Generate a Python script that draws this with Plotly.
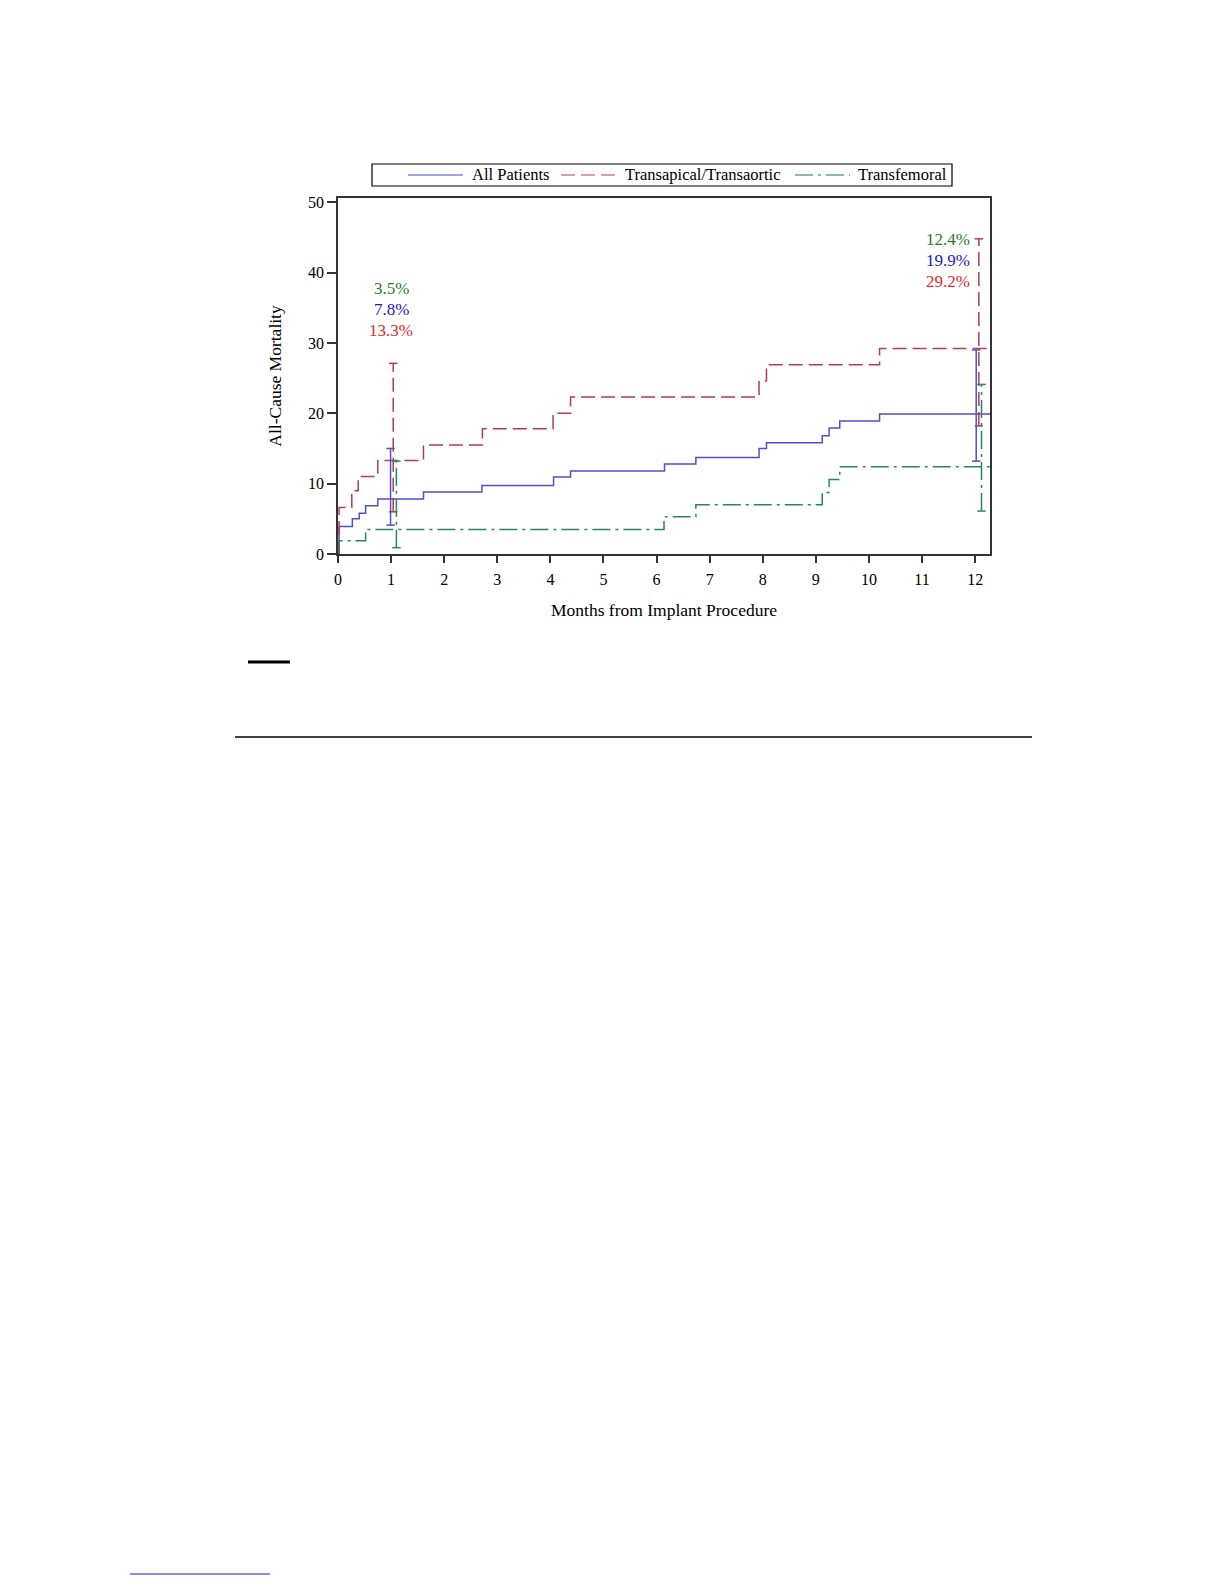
import plotly.graph_objects as go

# ---------------- data ----------------
series_names = ["All Patients", "Transapical/Transaortic", "Transfemoral"]

all_t = [0, 0.02, 0.27, 0.40, 0.52, 0.75, 1.61, 2.71, 4.06, 4.38, 6.15, 6.74, 7.93, 8.07, 9.12, 9.25, 9.45, 10.2, 12.3]
all_v = [0, 3.9, 5.0, 5.8, 6.85, 7.8, 8.8, 9.75, 10.95, 11.8, 12.8, 13.7, 15.0, 15.8, 16.8, 17.9, 18.9, 19.9, 19.9]

ta_t = [0, 0.02, 0.26, 0.38, 0.75, 1.61, 2.72, 4.05, 4.38, 7.93, 8.07, 10.2, 12.3]
ta_v = [0, 6.6, 9.0, 11.0, 13.3, 15.5, 17.8, 20.0, 22.3, 24.6, 26.9, 29.2, 29.2]

tf_t = [0, 0.02, 0.52, 6.14, 6.74, 9.12, 9.25, 9.45, 12.3]
tf_v = [0, 1.9, 3.5, 5.3, 7.0, 8.75, 10.6, 12.4, 12.4]

# 95% CI bars at 1 and 12 months: (x position, lower, upper)
all_ci = [(0.99, 4.1, 15.0), (12.02, 13.2, 29.0)]
ta_ci = [(1.04, 6.0, 27.1), (12.07, 18.2, 44.8)]
tf_ci = [(1.10, 0.9, 13.2), (12.12, 6.1, 24.1)]

# Labels at 1 and 12 months (order top to bottom: TF, All, TA)
labels_1m = ["3.5%", "7.8%", "13.3%"]
labels_12m = ["12.4%", "19.9%", "29.2%"]
label_y_1m = [37.8, 34.8, 31.8]
label_y_12m = [44.7, 41.7, 38.8]

x_ticks = list(range(0, 13))
y_ticks = [0, 10, 20, 30, 40, 50]

# ---------------- styles ----------------
FONT = "Liberation Serif"
c_all, c_ta, c_tf = "#4f4fcf", "#b23c52", "#2a8466"
lg_all, lg_ta, lg_tf = "#8585e0", "#d0808e", "#62a88e"
t_all, t_ta, t_tf = "#2020c8", "#e02828", "#1e7d1e"
dash_ta = "14px,6px"
dash_tf = "18px,5px,3px,5px"

fig = go.Figure()

series = [
    (series_names[0], all_t, all_v, c_all, "solid", all_ci),
    (series_names[1], ta_t, ta_v, c_ta, dash_ta, ta_ci),
    (series_names[2], tf_t, tf_v, c_tf, dash_tf, tf_ci),
]

for name, t, v, col, dash, ci in series:
    fig.add_trace(go.Scatter(
        x=t, y=v, mode="lines", name=name, showlegend=False,
        line=dict(color=col, width=1.5, dash=dash, shape="hv"),
    ))

for name, t, v, col, dash, ci in series:
    for (xc, lo, hi) in ci:
        fig.add_trace(go.Scatter(
            x=[xc, xc], y=[lo, hi], mode="lines+markers", showlegend=False,
            line=dict(color=col, width=1.5, dash=dash),
            marker=dict(symbol="line-ew", size=6, line=dict(color=col, width=1.5)),
            hoverinfo="skip",
        ))

for txt, yy, col in zip(labels_1m, label_y_1m, [t_tf, t_all, t_ta]):
    fig.add_annotation(x=1.0, y=yy, text=txt, showarrow=False, xanchor="center",
                       yanchor="middle", font=dict(family=FONT, size=17, color=col))
for txt, yy, col in zip(labels_12m, label_y_12m, [t_tf, t_all, t_ta]):
    fig.add_annotation(x=11.95, y=yy, text=txt, showarrow=False, xanchor="right",
                       yanchor="middle", font=dict(family=FONT, size=17, color=col))

# ---------------- layout helpers ----------------
L, R, T, B = 330, 982, 190, 546
W, H = 1224, 1584


def px(xp):
    return (xp - L) / (R - L)


def py(yp):
    return (B - yp) / (B - T)


# ---------------- legend (boxed, above plot) ----------------
leg_y = 167
fig.add_shape(type="rect", xref="paper", yref="paper", x0=px(364), x1=px(944),
              y0=py(178), y1=py(156), line=dict(color="black", width=1.2),
              fillcolor="white")
legend_items = [
    (series_names[0], lg_all, "solid", 400, 455, 462),
    (series_names[1], lg_ta, dash_ta, 553, 610, 615),
    (series_names[2], lg_tf, dash_tf, 787, 842, 848),
]
for name, col, dash, x0, x1, xt in legend_items:
    fig.add_shape(type="line", xref="paper", yref="paper", x0=px(x0), x1=px(x1),
                  y0=py(leg_y), y1=py(leg_y), line=dict(color=col, width=1.5, dash=dash))
    fig.add_annotation(xref="paper", yref="paper", x=px(xt), y=py(leg_y), text=name,
                       showarrow=False, xanchor="left", yanchor="middle",
                       font=dict(family=FONT, size=16.5, color="black"))

# ---------------- page decorations ----------------
fig.add_shape(type="line", xref="paper", yref="paper", x0=px(240), x1=px(282),
              y0=py(654), y1=py(654), line=dict(color="black", width=3))
fig.add_shape(type="line", xref="paper", yref="paper", x0=px(227), x1=px(1024),
              y0=py(729), y1=py(729), line=dict(color="black", width=1.5))
fig.add_shape(type="line", xref="paper", yref="paper", x0=px(122), x1=px(262),
              y0=py(1566), y1=py(1566), line=dict(color="#1a1ad0", width=1))

fig.update_layout(
    width=W, height=H,
    margin=dict(l=L, r=W - R, t=T, b=H - B, pad=0),
    paper_bgcolor="white", plot_bgcolor="white",
    font=dict(family=FONT, size=16, color="black"),
    showlegend=False,
    xaxis=dict(
        range=[0, 12.28], tickvals=x_ticks, ticktext=[str(v) for v in x_ticks],
        showgrid=False, zeroline=False, showline=True, mirror=True,
        linecolor="#333333", linewidth=1.5, ticks="outside", ticklen=7,
        tickcolor="#333333", tickwidth=1.5, ticklabelstandoff=3,
        tickfont=dict(family=FONT, size=16),
        title=dict(text="Months from Implant Procedure", standoff=17,
                   font=dict(family=FONT, size=17.5)),
    ),
    yaxis=dict(
        range=[0, 50.6], tickvals=y_ticks, ticktext=[str(v) for v in y_ticks],
        showgrid=False, zeroline=False, showline=True, mirror=True,
        linecolor="#333333", linewidth=1.5, ticks="outside", ticklen=9,
        tickcolor="#333333", tickwidth=1.5,
        tickfont=dict(family=FONT, size=16),
        title=dict(text="All-Cause Mortality", standoff=22,
                   font=dict(family=FONT, size=17.5)),
    ),
)

fig.write_html("out.html")
